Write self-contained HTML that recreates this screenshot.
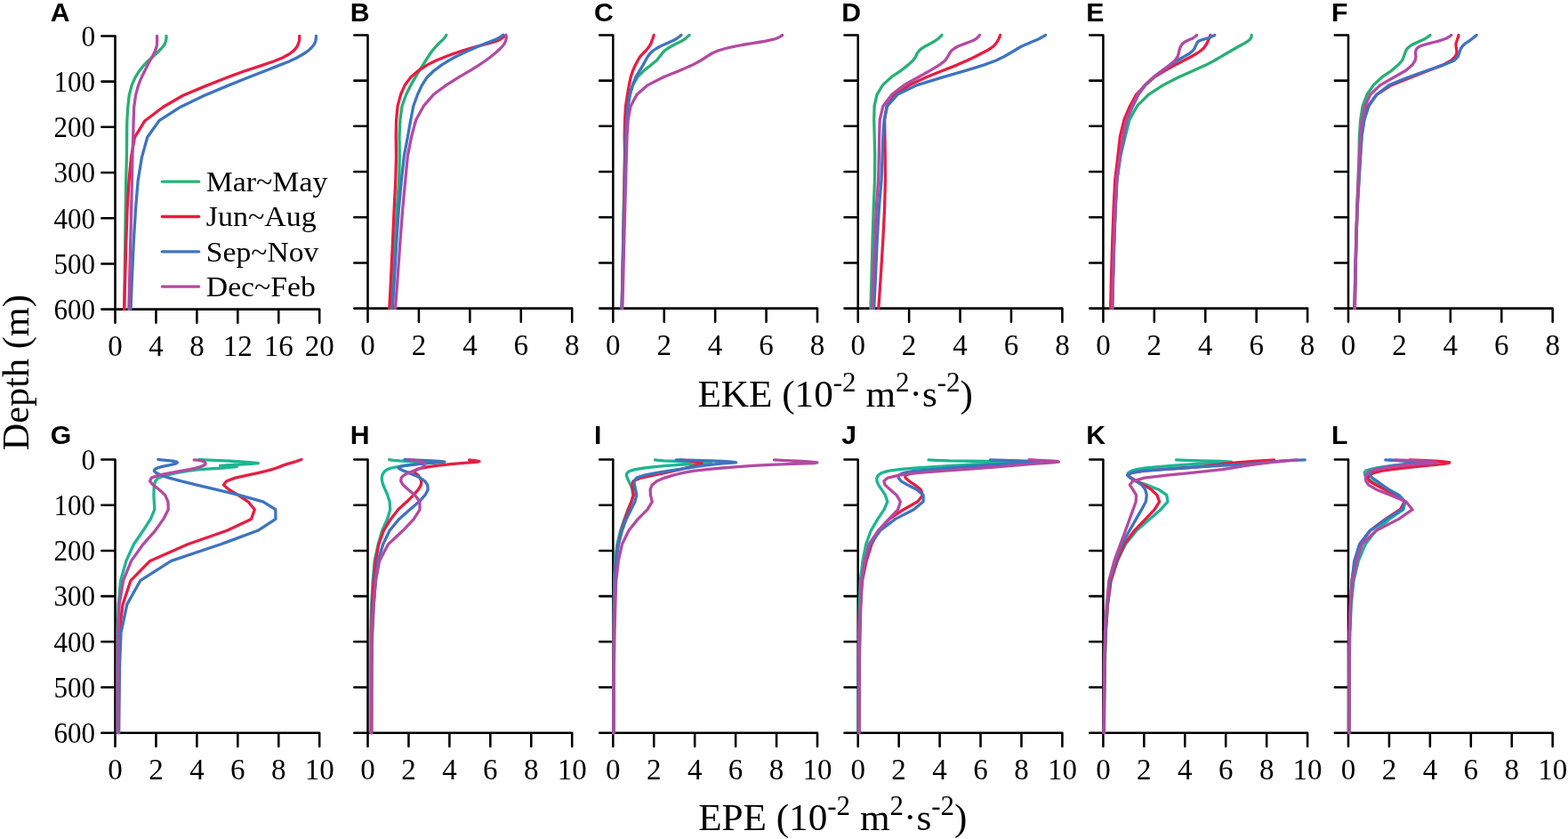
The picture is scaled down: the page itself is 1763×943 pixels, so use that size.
<!DOCTYPE html>
<html lang="en"><head><meta charset="utf-8"><title>EKE and EPE seasonal depth profiles</title>
<style>html,body{margin:0;padding:0;background:#fff}svg{display:block}</style></head>
<body>
<svg width="1763" height="943" viewBox="0 0 1763 943">
<rect width="100%" height="100%" fill="#fff"/>
<g stroke="#000" stroke-width="2.55" fill="none" stroke-linecap="round" stroke-linejoin="round">
<path d="M114.30,40.40 H129.50 V362.80 M114.30,347.60 H359.20 v15.2 M114.30,91.60 H129.50 M114.30,142.80 H129.50 M114.30,194.00 H129.50 M114.30,245.20 H129.50 M114.30,296.40 H129.50 M175.44,347.60 v15.2 M221.38,347.60 v15.2 M267.32,347.60 v15.2 M313.26,347.60 v15.2"/>
<path d="M398.30,39.40 H413.50 V361.80 M398.30,346.60 H643.20 v15.2 M398.30,90.60 H413.50 M398.30,141.80 H413.50 M398.30,193.00 H413.50 M398.30,244.20 H413.50 M398.30,295.40 H413.50 M470.93,346.60 v15.2 M528.35,346.60 v15.2 M585.77,346.60 v15.2"/>
<path d="M674.10,39.40 H689.30 V361.80 M674.10,346.60 H919.00 v15.2 M674.10,90.60 H689.30 M674.10,141.80 H689.30 M674.10,193.00 H689.30 M674.10,244.20 H689.30 M674.10,295.40 H689.30 M746.72,346.60 v15.2 M804.15,346.60 v15.2 M861.57,346.60 v15.2"/>
<path d="M949.50,39.40 H964.70 V361.80 M949.50,346.60 H1194.40 v15.2 M949.50,90.60 H964.70 M949.50,141.80 H964.70 M949.50,193.00 H964.70 M949.50,244.20 H964.70 M949.50,295.40 H964.70 M1022.12,346.60 v15.2 M1079.55,346.60 v15.2 M1136.97,346.60 v15.2"/>
<path d="M1225.20,39.40 H1240.40 V361.80 M1225.20,346.60 H1470.10 v15.2 M1225.20,90.60 H1240.40 M1225.20,141.80 H1240.40 M1225.20,193.00 H1240.40 M1225.20,244.20 H1240.40 M1225.20,295.40 H1240.40 M1297.83,346.60 v15.2 M1355.25,346.60 v15.2 M1412.68,346.60 v15.2"/>
<path d="M1500.80,39.40 H1516.00 V361.80 M1500.80,346.60 H1745.70 v15.2 M1500.80,90.60 H1516.00 M1500.80,141.80 H1516.00 M1500.80,193.00 H1516.00 M1500.80,244.20 H1516.00 M1500.80,295.40 H1516.00 M1573.42,346.60 v15.2 M1630.85,346.60 v15.2 M1688.28,346.60 v15.2"/>
<path d="M114.30,516.50 H129.50 V838.90 M114.30,823.70 H359.20 v15.2 M114.30,567.70 H129.50 M114.30,618.90 H129.50 M114.30,670.10 H129.50 M114.30,721.30 H129.50 M114.30,772.50 H129.50 M175.44,823.70 v15.2 M221.38,823.70 v15.2 M267.32,823.70 v15.2 M313.26,823.70 v15.2"/>
<path d="M398.30,516.50 H413.50 V838.90 M398.30,823.70 H643.20 v15.2 M398.30,567.70 H413.50 M398.30,618.90 H413.50 M398.30,670.10 H413.50 M398.30,721.30 H413.50 M398.30,772.50 H413.50 M459.44,823.70 v15.2 M505.38,823.70 v15.2 M551.32,823.70 v15.2 M597.26,823.70 v15.2"/>
<path d="M674.10,516.50 H689.30 V838.90 M674.10,823.70 H919.00 v15.2 M674.10,567.70 H689.30 M674.10,618.90 H689.30 M674.10,670.10 H689.30 M674.10,721.30 H689.30 M674.10,772.50 H689.30 M735.24,823.70 v15.2 M781.18,823.70 v15.2 M827.12,823.70 v15.2 M873.06,823.70 v15.2"/>
<path d="M949.50,516.50 H964.70 V838.90 M949.50,823.70 H1194.40 v15.2 M949.50,567.70 H964.70 M949.50,618.90 H964.70 M949.50,670.10 H964.70 M949.50,721.30 H964.70 M949.50,772.50 H964.70 M1010.64,823.70 v15.2 M1056.58,823.70 v15.2 M1102.52,823.70 v15.2 M1148.46,823.70 v15.2"/>
<path d="M1225.20,516.50 H1240.40 V838.90 M1225.20,823.70 H1470.10 v15.2 M1225.20,567.70 H1240.40 M1225.20,618.90 H1240.40 M1225.20,670.10 H1240.40 M1225.20,721.30 H1240.40 M1225.20,772.50 H1240.40 M1286.34,823.70 v15.2 M1332.28,823.70 v15.2 M1378.22,823.70 v15.2 M1424.16,823.70 v15.2"/>
<path d="M1500.80,516.50 H1516.00 V838.90 M1500.80,823.70 H1745.70 v15.2 M1500.80,567.70 H1516.00 M1500.80,618.90 H1516.00 M1500.80,670.10 H1516.00 M1500.80,721.30 H1516.00 M1500.80,772.50 H1516.00 M1561.94,823.70 v15.2 M1607.88,823.70 v15.2 M1653.82,823.70 v15.2 M1699.76,823.70 v15.2"/>
</g>
<g fill="none" stroke-width="3.3" stroke-linecap="round" stroke-linejoin="round">
<path d="M187.0,40.3 L187.0,40.7 L187.0,41.2 L187.0,41.8 L187.0,42.4 L186.9,43.0 L186.9,43.7 L186.8,44.5 L186.6,45.3 L186.4,46.2 L186.0,47.3 L185.6,48.5 L184.9,49.9 L183.9,51.5 L182.4,53.3 L180.4,55.5 L178.0,58.0 L174.9,61.0 L170.8,64.7 L166.0,69.0 L161.1,74.1 L156.2,80.3 L151.7,87.7 L147.9,96.6 L145.2,107.3 L143.8,120.2 L142.8,135.7 L142.6,154.3 L142.4,176.6 L141.7,203.3 L141.2,235.1 L140.7,272.8 L140.2,317.4 L139.8,347.6" stroke="#27B074"/>
<path d="M336.7,40.3 L336.7,40.7 L336.7,41.2 L336.7,41.8 L336.7,42.4 L336.7,43.0 L336.6,43.7 L336.6,44.5 L336.5,45.3 L336.3,46.2 L336.0,47.3 L335.6,48.5 L335.1,49.9 L334.4,51.5 L333.3,53.3 L331.6,55.5 L329.0,58.0 L324.8,61.0 L318.0,64.7 L307.5,69.0 L292.5,74.1 L273.9,80.3 L253.7,87.7 L231.2,96.6 L205.8,107.3 L183.5,120.2 L162.9,135.7 L151.4,154.3 L147.5,176.6 L145.0,203.3 L143.1,235.1 L141.8,272.8 L140.5,317.4 L139.6,347.6" stroke="#E81C42"/>
<path d="M355.4,40.3 L355.4,40.7 L355.4,41.2 L355.4,41.8 L355.4,42.4 L355.3,43.0 L355.2,43.7 L355.1,44.5 L354.9,45.3 L354.7,46.2 L354.3,47.3 L353.8,48.5 L353.1,49.9 L352.0,51.5 L350.4,53.3 L348.3,55.5 L345.2,58.0 L340.6,61.0 L334.0,64.7 L325.2,69.0 L312.1,74.1 L296.6,80.3 L277.3,87.7 L255.4,96.6 L229.9,107.3 L203.0,120.2 L178.9,135.7 L165.7,154.3 L159.5,176.6 L155.1,203.3 L152.5,235.1 L150.2,272.8 L148.2,317.4 L147.0,347.6" stroke="#3D74C0"/>
<path d="M176.5,40.3 L176.5,40.7 L176.5,41.2 L176.5,41.8 L176.6,42.4 L176.6,43.0 L176.6,43.7 L176.6,44.5 L176.6,45.3 L176.6,46.2 L176.6,47.3 L176.5,48.5 L176.4,49.9 L176.2,51.5 L175.8,53.3 L175.1,55.5 L174.0,58.0 L172.6,61.0 L170.7,64.7 L168.2,69.0 L165.5,74.1 L162.5,80.3 L158.8,87.7 L155.3,96.6 L152.5,107.3 L150.7,120.2 L150.1,135.7 L149.7,154.3 L148.9,176.6 L148.4,203.3 L147.7,235.1 L146.7,272.8 L145.6,317.4 L144.8,347.6" stroke="#B34AA2"/>
<path d="M501.8,39.5 L501.7,39.7 L501.4,40.2 L501.0,40.8 L500.6,41.4 L500.2,42.0 L499.7,42.7 L499.1,43.5 L498.3,44.3 L497.4,45.2 L496.1,46.3 L494.8,47.5 L493.3,48.9 L491.7,50.5 L490.1,52.3 L488.2,54.5 L486.1,57.0 L483.9,60.0 L481.5,63.7 L478.7,68.0 L475.5,73.1 L471.5,79.3 L467.1,86.7 L462.0,95.6 L456.7,106.3 L452.0,119.2 L449.9,134.7 L449.0,153.3 L449.3,175.6 L448.7,202.3 L446.4,234.1 L444.1,271.8 L441.5,316.4 L439.7,346.6" stroke="#27B074"/>
<path d="M567.0,40.8 L566.3,41.4 L565.5,42.0 L564.6,42.7 L563.5,43.5 L562.2,44.3 L560.6,45.2 L558.0,46.3 L554.2,47.5 L548.9,48.9 L542.8,50.5 L535.8,52.3 L528.0,54.5 L519.8,57.0 L511.0,60.0 L500.9,63.7 L490.3,68.0 L480.2,73.1 L470.5,79.3 L461.9,86.7 L455.3,95.6 L450.5,106.3 L447.1,119.2 L445.6,134.7 L445.2,153.3 L445.5,175.6 L444.8,202.3 L443.2,234.1 L441.5,271.8 L439.4,316.4 L437.8,346.6" stroke="#E81C42"/>
<path d="M565.8,39.2 L565.2,39.7 L564.5,40.2 L563.7,40.8 L562.9,41.4 L561.9,42.0 L560.7,42.7 L559.2,43.5 L557.3,44.3 L555.1,45.2 L552.3,46.3 L549.3,47.5 L545.7,48.9 L541.8,50.5 L537.4,52.3 L532.4,54.5 L526.6,57.0 L520.0,60.0 L512.4,63.7 L504.6,68.0 L496.5,73.1 L488.1,79.3 L480.3,86.7 L474.5,95.6 L469.5,106.3 L464.8,119.2 L461.8,134.7 L458.5,153.3 L454.3,175.6 L451.4,202.3 L448.4,234.1 L445.8,271.8 L443.2,316.4 L441.3,346.6" stroke="#3D74C0"/>
<path d="M569.0,39.2 L569.0,39.7 L569.1,40.2 L569.1,40.8 L569.2,41.4 L569.2,42.0 L569.2,42.7 L569.1,43.5 L569.0,44.3 L568.7,45.2 L568.4,46.3 L567.9,47.5 L567.2,48.9 L566.1,50.5 L564.5,52.3 L562.5,54.5 L559.9,57.0 L556.4,60.0 L551.8,63.7 L546.1,68.0 L538.6,73.1 L528.6,79.3 L516.1,86.7 L501.8,95.6 L487.4,106.3 L476.3,119.2 L467.7,134.7 L462.7,153.3 L458.3,175.6 L455.8,202.3 L452.8,234.1 L449.9,271.8 L446.8,316.4 L444.5,346.6" stroke="#B34AA2"/>
<path d="M775.0,39.5 L774.8,39.7 L774.2,40.2 L773.6,40.8 L773.0,41.4 L772.2,42.0 L771.4,42.7 L770.5,43.5 L769.4,44.3 L768.1,45.2 L766.1,46.3 L763.7,47.5 L760.7,48.9 L757.7,50.5 L754.3,52.3 L750.6,54.5 L747.3,57.0 L744.5,60.0 L741.6,63.7 L738.2,68.0 L732.0,73.1 L724.0,79.3 L716.8,86.7 L711.6,95.6 L708.2,106.3 L705.7,119.2 L704.1,134.7 L703.0,153.3 L702.5,175.6 L701.9,202.3 L701.3,234.1 L700.6,271.8 L699.8,316.4 L699.2,346.6" stroke="#27B074"/>
<path d="M735.2,39.5 L735.1,39.7 L735.0,40.2 L734.8,40.8 L734.6,41.4 L734.4,42.0 L734.1,42.7 L733.9,43.5 L733.6,44.3 L733.2,45.2 L732.8,46.3 L732.4,47.5 L731.8,48.9 L731.0,50.5 L729.8,52.3 L728.2,54.5 L726.1,57.0 L723.0,60.0 L719.7,63.7 L717.1,68.0 L714.4,73.1 L711.6,79.3 L709.2,86.7 L707.3,95.6 L705.5,106.3 L703.5,119.2 L702.6,134.7 L702.2,153.3 L702.6,175.6 L702.2,202.3 L701.5,234.1 L700.8,271.8 L699.9,316.4 L699.3,346.6" stroke="#E81C42"/>
<path d="M765.9,39.5 L765.7,39.7 L765.0,40.2 L764.3,40.8 L763.6,41.4 L762.7,42.0 L761.8,42.7 L760.7,43.5 L759.3,44.3 L757.6,45.2 L755.3,46.3 L752.5,47.5 L749.3,48.9 L745.8,50.5 L742.0,52.3 L738.0,54.5 L734.3,57.0 L731.0,60.0 L728.2,63.7 L725.8,68.0 L723.0,73.1 L719.2,79.3 L714.9,86.7 L711.2,95.6 L708.3,106.3 L706.1,119.2 L704.4,134.7 L703.6,153.3 L703.3,175.6 L702.7,202.3 L701.9,234.1 L700.9,271.8 L699.8,316.4 L699.0,346.6" stroke="#3D74C0"/>
<path d="M879.6,39.5 L879.5,39.7 L878.6,40.2 L877.7,40.8 L876.7,41.4 L875.5,42.0 L874.1,42.7 L872.1,43.5 L869.2,44.3 L865.3,45.2 L860.0,46.3 L853.0,47.5 L844.3,48.9 L834.5,50.5 L824.9,52.3 L815.5,54.5 L807.2,57.0 L800.4,60.0 L794.7,63.7 L787.9,68.0 L778.6,73.1 L764.3,79.3 L745.8,86.7 L728.4,95.6 L716.1,106.3 L709.1,119.2 L706.2,134.7 L705.0,153.3 L704.3,175.6 L703.6,202.3 L702.7,234.1 L701.7,271.8 L700.6,316.4 L699.8,346.6" stroke="#B34AA2"/>
<path d="M1058.9,39.5 L1058.8,39.7 L1058.3,40.2 L1057.7,40.8 L1057.1,41.4 L1056.5,42.0 L1055.8,42.7 L1054.9,43.5 L1053.8,44.3 L1052.5,45.2 L1050.7,46.3 L1048.7,47.5 L1046.2,48.9 L1043.3,50.5 L1039.7,52.3 L1036.3,54.5 L1033.5,57.0 L1031.1,60.0 L1029.6,63.7 L1026.5,68.0 L1020.9,73.1 L1013.0,79.3 L1002.1,86.7 L992.5,95.6 L986.0,106.3 L983.1,119.2 L982.7,134.7 L983.2,153.3 L983.7,175.6 L983.5,202.3 L982.2,234.1 L981.0,271.8 L979.8,316.4 L978.9,346.6" stroke="#27B074"/>
<path d="M1124.6,39.5 L1124.6,39.7 L1124.4,40.2 L1124.1,40.8 L1123.9,41.4 L1123.7,42.0 L1123.4,42.7 L1123.0,43.5 L1122.6,44.3 L1122.1,45.2 L1121.5,46.3 L1120.8,47.5 L1119.8,48.9 L1118.4,50.5 L1116.6,52.3 L1113.7,54.5 L1109.4,57.0 L1103.5,60.0 L1096.3,63.7 L1087.4,68.0 L1075.9,73.1 L1060.1,79.3 L1041.5,86.7 L1022.6,95.6 L1006.6,106.3 L997.0,119.2 L994.6,134.7 L994.9,153.3 L995.2,175.6 L995.4,202.3 L994.6,234.1 L992.7,271.8 L989.9,316.4 L987.8,346.6" stroke="#E81C42"/>
<path d="M1175.5,39.5 L1175.3,39.7 L1174.4,40.2 L1173.4,40.8 L1172.3,41.4 L1171.2,42.0 L1169.9,42.7 L1168.5,43.5 L1166.8,44.3 L1164.7,45.2 L1162.1,46.3 L1159.1,47.5 L1155.9,48.9 L1152.2,50.5 L1148.2,52.3 L1144.4,54.5 L1140.3,57.0 L1135.2,60.0 L1128.7,63.7 L1119.9,68.0 L1106.0,73.1 L1085.7,79.3 L1060.5,86.7 L1031.1,95.6 L1009.0,106.3 L997.7,119.2 L994.1,134.7 L992.9,153.3 L992.1,175.6 L991.0,202.3 L988.3,234.1 L986.1,271.8 L984.2,316.4 L982.7,346.6" stroke="#3D74C0"/>
<path d="M1101.5,39.5 L1101.4,39.7 L1100.9,40.2 L1100.4,40.8 L1099.9,41.4 L1099.2,42.0 L1098.5,42.7 L1097.7,43.5 L1096.5,44.3 L1094.8,45.2 L1092.3,46.3 L1089.1,47.5 L1085.4,48.9 L1081.1,50.5 L1076.7,52.3 L1072.9,54.5 L1069.7,57.0 L1067.6,60.0 L1065.6,63.7 L1062.7,68.0 L1056.1,73.1 L1045.6,79.3 L1032.5,86.7 L1016.7,95.6 L1002.8,106.3 L992.9,119.2 L989.2,134.7 L988.6,153.3 L988.3,175.6 L987.6,202.3 L985.3,234.1 L983.5,271.8 L981.7,316.4 L980.4,346.6" stroke="#B34AA2"/>
<path d="M1407.2,39.5 L1407.2,39.7 L1407.1,40.2 L1407.0,40.8 L1406.9,41.4 L1406.7,42.0 L1406.5,42.7 L1406.0,43.5 L1405.3,44.3 L1404.3,45.2 L1402.9,46.3 L1401.2,47.5 L1398.8,48.9 L1395.8,50.5 L1392.4,52.3 L1388.7,54.5 L1384.3,57.0 L1379.1,60.0 L1372.9,63.7 L1365.6,68.0 L1355.8,73.1 L1342.1,79.3 L1325.2,86.7 L1307.9,95.6 L1291.3,106.3 L1278.5,119.2 L1269.9,134.7 L1265.2,153.3 L1259.8,175.6 L1255.6,202.3 L1254.0,234.1 L1252.6,271.8 L1251.3,316.4 L1250.6,346.6" stroke="#27B074"/>
<path d="M1361.0,39.5 L1360.9,39.7 L1360.7,40.2 L1360.5,40.8 L1360.3,41.4 L1360.0,42.0 L1359.7,42.7 L1359.4,43.5 L1359.0,44.3 L1358.6,45.2 L1358.2,46.3 L1357.6,47.5 L1356.9,48.9 L1356.0,50.5 L1354.7,52.3 L1353.0,54.5 L1350.1,57.0 L1345.6,60.0 L1339.2,63.7 L1330.9,68.0 L1321.2,73.1 L1309.8,79.3 L1298.0,86.7 L1287.7,95.6 L1277.6,106.3 L1270.5,119.2 L1263.9,134.7 L1259.4,153.3 L1256.9,175.6 L1253.7,202.3 L1252.1,234.1 L1250.7,271.8 L1249.4,316.4 L1248.7,346.6" stroke="#E81C42"/>
<path d="M1365.7,39.5 L1365.5,39.7 L1364.3,40.2 L1363.0,40.8 L1361.6,41.4 L1360.1,42.0 L1358.2,42.7 L1355.7,43.5 L1352.9,44.3 L1350.1,45.2 L1347.6,46.3 L1346.4,47.5 L1345.6,48.9 L1344.8,50.5 L1344.0,52.3 L1343.0,54.5 L1341.1,57.0 L1337.5,60.0 L1331.3,63.7 L1323.8,68.0 L1316.0,73.1 L1307.2,79.3 L1297.2,86.7 L1287.9,95.6 L1280.0,106.3 L1273.7,119.2 L1267.0,134.7 L1263.4,153.3 L1259.5,175.6 L1256.0,202.3 L1254.3,234.1 L1252.8,271.8 L1251.5,316.4 L1250.8,346.6" stroke="#3D74C0"/>
<path d="M1345.5,39.5 L1345.4,39.7 L1344.8,40.2 L1344.2,40.8 L1343.5,41.4 L1342.6,42.0 L1341.6,42.7 L1340.1,43.5 L1338.1,44.3 L1335.9,45.2 L1333.8,46.3 L1331.7,47.5 L1329.8,48.9 L1328.5,50.5 L1327.4,52.3 L1326.5,54.5 L1325.8,57.0 L1325.3,60.0 L1324.1,63.7 L1321.1,68.0 L1315.1,73.1 L1306.6,79.3 L1296.8,86.7 L1287.3,95.6 L1279.3,106.3 L1273.1,119.2 L1266.5,134.7 L1262.8,153.3 L1259.1,175.6 L1255.7,202.3 L1254.0,234.1 L1252.6,271.8 L1251.3,316.4 L1250.6,346.6" stroke="#B34AA2"/>
<path d="M1607.9,39.5 L1607.7,39.7 L1607.0,40.2 L1606.3,40.8 L1605.5,41.4 L1604.6,42.0 L1603.6,42.7 L1602.4,43.5 L1600.8,44.3 L1598.8,45.2 L1596.3,46.3 L1593.7,47.5 L1590.6,48.9 L1587.3,50.5 L1584.6,52.3 L1582.4,54.5 L1580.7,57.0 L1579.6,60.0 L1578.4,63.7 L1576.5,68.0 L1571.9,73.1 L1564.7,79.3 L1553.8,86.7 L1544.3,95.6 L1537.0,106.3 L1532.1,119.2 L1529.7,134.7 L1528.4,153.3 L1528.0,175.6 L1527.0,202.3 L1525.7,234.1 L1524.7,271.8 L1523.9,316.4 L1523.3,346.6" stroke="#27B074"/>
<path d="M1640.0,39.5 L1640.0,39.7 L1639.8,40.2 L1639.7,40.8 L1639.5,41.4 L1639.3,42.0 L1639.1,42.7 L1638.8,43.5 L1638.6,44.3 L1638.3,45.2 L1637.9,46.3 L1637.5,47.5 L1637.1,48.9 L1637.0,50.5 L1637.1,52.3 L1637.5,54.5 L1637.9,57.0 L1637.9,60.0 L1636.1,63.7 L1631.6,68.0 L1622.0,73.1 L1606.2,79.3 L1587.1,86.7 L1564.4,95.6 L1547.9,106.3 L1538.0,119.2 L1533.6,134.7 L1530.8,153.3 L1529.4,175.6 L1527.8,202.3 L1526.1,234.1 L1524.8,271.8 L1523.7,316.4 L1523.0,346.6" stroke="#E81C42"/>
<path d="M1660.1,39.5 L1659.9,39.7 L1659.3,40.2 L1658.6,40.8 L1657.9,41.4 L1657.1,42.0 L1656.3,42.7 L1655.3,43.5 L1654.3,44.3 L1653.0,45.2 L1651.5,46.3 L1649.6,47.5 L1647.5,48.9 L1645.7,50.5 L1644.0,52.3 L1642.6,54.5 L1641.6,57.0 L1640.6,60.0 L1639.3,63.7 L1635.0,68.0 L1622.6,73.1 L1604.7,79.3 L1583.5,86.7 L1562.0,95.6 L1547.9,106.3 L1539.0,119.2 L1534.0,134.7 L1531.1,153.3 L1529.7,175.6 L1528.1,202.3 L1526.2,234.1 L1524.8,271.8 L1523.6,316.4 L1522.8,346.6" stroke="#3D74C0"/>
<path d="M1631.7,39.5 L1631.6,39.7 L1630.8,40.2 L1630.0,40.8 L1629.1,41.4 L1628.1,42.0 L1626.9,42.7 L1625.2,43.5 L1623.1,44.3 L1620.4,45.2 L1616.8,46.3 L1611.9,47.5 L1606.5,48.9 L1600.7,50.5 L1595.9,52.3 L1593.0,54.5 L1591.8,57.0 L1591.5,60.0 L1592.0,63.7 L1591.2,68.0 L1587.9,73.1 L1580.7,79.3 L1567.5,86.7 L1552.0,95.6 L1540.7,106.3 L1534.7,119.2 L1531.4,134.7 L1529.5,153.3 L1528.5,175.6 L1527.3,202.3 L1525.9,234.1 L1524.9,271.8 L1524.0,316.4 L1523.4,346.6" stroke="#B34AA2"/>
<path d="M224.1,516.5 L230.4,516.8 L241.6,517.3 L253.0,517.9 L263.6,518.5 L273.4,519.1 L283.3,519.8 L290.4,520.6 L282.1,521.4 L264.5,522.3 L247.6,523.4 L266.5,524.6 L250.7,526.0 L224.6,527.6 L210.7,529.4 L197.9,531.6 L187.3,534.1 L177.8,537.1 L174.6,540.8 L173.5,545.1 L173.1,550.2 L172.9,556.4 L173.3,563.8 L173.8,572.7 L169.3,583.4 L161.0,596.3 L150.4,611.8 L141.9,630.4 L135.6,652.7 L133.2,679.4 L132.2,711.2 L132.1,748.9 L132.1,793.5 L132.1,823.7" stroke="#1DB592"/>
<path d="M338.9,516.5 L338.1,516.8 L336.6,517.3 L335.0,517.9 L333.2,518.5 L331.2,519.1 L328.8,519.8 L326.2,520.6 L323.4,521.4 L320.5,522.3 L317.6,523.4 L314.6,524.6 L310.8,526.0 L305.8,527.6 L299.2,529.4 L289.8,531.6 L278.1,534.1 L264.6,537.1 L254.7,540.8 L251.4,545.1 L257.3,550.2 L267.7,556.4 L278.9,563.8 L286.3,572.7 L282.5,583.4 L255.4,596.3 L211.1,611.8 L168.7,630.4 L146.9,652.7 L138.0,679.4 L133.9,711.2 L133.0,748.9 L132.9,793.5 L132.9,823.7" stroke="#E81C42"/>
<path d="M177.8,516.5 L181.1,516.8 L186.6,517.3 L191.9,517.9 L195.9,518.5 L198.4,519.1 L199.3,519.8 L198.5,520.6 L196.3,521.4 L192.6,522.3 L187.2,523.4 L181.5,524.6 L176.7,526.0 L173.8,527.6 L173.3,529.4 L175.6,531.6 L181.1,534.1 L190.2,537.1 L204.2,540.8 L221.4,545.1 L242.7,550.2 L268.6,556.4 L295.7,563.8 L309.8,572.7 L309.9,583.4 L290.0,596.3 L248.1,611.8 L192.6,630.4 L157.7,652.7 L142.8,679.4 L136.0,711.2 L134.5,748.9 L134.0,793.5 L133.7,823.7" stroke="#3D74C0"/>
<path d="M218.2,516.8 L224.7,517.3 L226.7,517.9 L228.4,518.5 L229.6,519.1 L230.5,519.8 L231.0,520.6 L231.1,521.4 L230.5,522.3 L228.6,523.4 L225.2,524.6 L220.2,526.0 L212.9,527.6 L203.2,529.4 L191.1,531.6 L178.2,534.1 L170.2,537.1 L168.5,540.8 L172.2,545.1 L178.9,550.2 L185.6,556.4 L188.9,563.8 L189.2,572.7 L183.8,583.4 L174.6,596.3 L160.9,611.8 L147.6,630.4 L138.6,652.7 L134.1,679.4 L132.9,711.2 L132.5,748.9 L132.5,793.5 L132.5,823.7" stroke="#B34AA2"/>
<path d="M437.7,516.6 L438.9,516.8 L442.3,517.3 L448.9,517.9 L459.6,518.5 L466.4,519.1 L473.6,519.8 L475.0,520.6 L471.1,521.4 L465.0,522.3 L455.7,523.4 L446.9,524.6 L440.0,526.0 L435.5,527.6 L432.9,529.4 L431.1,531.6 L429.8,534.1 L429.3,537.1 L429.6,540.8 L430.8,545.1 L433.0,550.2 L435.7,556.4 L438.1,563.8 L438.7,572.7 L435.5,583.4 L429.7,596.3 L425.2,611.8 L421.1,630.4 L419.2,652.7 L417.6,679.4 L416.9,711.2 L416.8,748.9 L416.9,793.5 L416.9,823.7" stroke="#1DB592"/>
<path d="M527.7,517.0 L530.4,517.3 L535.6,517.9 L539.0,518.5 L536.7,519.1 L528.2,519.8 L518.4,520.6 L509.6,521.4 L500.3,522.3 L491.1,523.4 L482.6,524.6 L474.2,526.0 L468.7,527.6 L466.0,529.4 L466.8,531.6 L470.1,534.1 L472.2,537.1 L473.7,540.8 L473.4,545.1 L470.4,550.2 L465.0,556.4 L457.5,563.8 L447.7,572.7 L439.3,583.4 L431.4,596.3 L425.9,611.8 L422.3,630.4 L420.3,652.7 L418.4,679.4 L418.0,711.2 L417.9,748.9 L417.9,793.5 L417.9,823.7" stroke="#E81C42"/>
<path d="M455.0,516.5 L462.7,516.8 L474.8,517.3 L484.7,517.9 L493.8,518.5 L500.0,519.1 L493.7,519.8 L482.6,520.6 L471.8,521.4 L462.2,522.3 L454.5,523.4 L449.4,524.6 L448.1,526.0 L450.2,527.6 L454.4,529.4 L460.0,531.6 L466.1,534.1 L472.5,537.1 L477.7,540.8 L480.7,545.1 L481.2,550.2 L478.0,556.4 L471.3,563.8 L460.8,572.7 L448.7,583.4 L438.1,596.3 L430.7,611.8 L424.9,630.4 L422.2,652.7 L420.3,679.4 L418.7,711.2 L417.9,748.9 L417.7,793.5 L417.6,823.7" stroke="#3D74C0"/>
<path d="M460.9,516.5 L462.7,516.8 L465.9,517.3 L469.0,517.9 L471.9,518.5 L474.4,519.1 L476.1,519.8 L477.0,520.6 L477.4,521.4 L477.3,522.3 L476.9,523.4 L475.8,524.6 L473.3,526.0 L469.5,527.6 L464.8,529.4 L459.0,531.6 L454.1,534.1 L451.1,537.1 L450.7,540.8 L453.2,545.1 L459.0,550.2 L466.5,556.4 L471.9,563.8 L472.1,572.7 L465.3,583.4 L453.1,596.3 L436.5,611.8 L426.6,630.4 L422.5,652.7 L420.1,679.4 L418.4,711.2 L417.6,748.9 L417.4,793.5 L417.4,823.7" stroke="#B34AA2"/>
<path d="M736.5,516.8 L740.2,517.3 L746.4,517.9 L762.7,518.5 L781.4,519.1 L798.1,519.8 L799.5,520.6 L781.1,521.4 L764.8,522.3 L749.9,523.4 L736.5,524.6 L724.3,526.0 L714.3,527.6 L708.0,529.4 L705.0,531.6 L704.3,534.1 L705.2,537.1 L706.9,540.8 L709.1,545.1 L710.8,550.2 L711.8,556.4 L710.0,563.8 L706.0,572.7 L702.1,583.4 L697.6,596.3 L693.9,611.8 L691.6,630.4 L690.7,652.7 L690.2,679.4 L689.9,711.2 L689.8,748.9 L689.7,793.5 L689.6,823.7" stroke="#1DB592"/>
<path d="M765.1,516.8 L769.3,517.3 L774.8,517.9 L780.1,518.5 L784.6,519.1 L787.9,519.8 L789.0,520.6 L788.0,521.4 L785.4,522.3 L781.5,523.4 L776.7,524.6 L771.1,526.0 L764.8,527.6 L756.8,529.4 L747.1,531.6 L734.8,534.1 L720.8,537.1 L712.0,540.8 L710.5,545.1 L711.6,550.2 L712.4,556.4 L710.0,563.8 L706.4,572.7 L702.7,583.4 L699.0,596.3 L695.1,611.8 L692.5,630.4 L691.0,652.7 L690.5,679.4 L690.2,711.2 L690.1,748.9 L689.9,793.5 L689.8,823.7" stroke="#E81C42"/>
<path d="M760.3,516.8 L781.5,517.3 L799.1,517.9 L812.1,518.5 L823.2,519.1 L827.6,519.8 L816.1,520.6 L807.0,521.4 L798.9,522.3 L790.4,523.4 L782.0,524.6 L773.1,526.0 L763.0,527.6 L750.7,529.4 L737.3,531.6 L724.6,534.1 L715.6,537.1 L713.0,540.8 L713.4,545.1 L714.6,550.2 L715.8,556.4 L714.0,563.8 L709.5,572.7 L704.2,583.4 L699.4,596.3 L695.4,611.8 L692.7,630.4 L691.2,652.7 L690.7,679.4 L690.4,711.2 L690.2,748.9 L690.0,793.5 L689.9,823.7" stroke="#3D74C0"/>
<path d="M870.4,516.8 L879.0,517.3 L889.4,517.9 L901.5,518.5 L912.2,519.1 L918.8,519.8 L915.1,520.6 L891.5,521.4 L866.7,522.3 L846.7,523.4 L829.6,524.6 L811.7,526.0 L794.6,527.6 L779.2,529.4 L767.0,531.6 L756.9,534.1 L747.1,537.1 L738.5,540.8 L733.2,545.1 L731.1,550.2 L731.4,556.4 L733.3,563.8 L728.0,572.7 L717.3,583.4 L707.0,596.3 L699.4,611.8 L695.3,630.4 L692.7,652.7 L691.8,679.4 L691.0,711.2 L690.4,748.9 L690.2,793.5 L690.1,823.7" stroke="#B34AA2"/>
<path d="M1044.0,516.8 L1052.1,517.3 L1067.0,517.9 L1109.0,518.5 L1142.2,519.1 L1131.9,519.8 L1118.8,520.6 L1104.0,521.4 L1088.0,522.3 L1070.0,523.4 L1051.0,524.6 L1030.4,526.0 L1011.1,527.6 L998.3,529.4 L991.1,531.6 L987.5,534.1 L985.8,537.1 L986.0,540.8 L987.8,545.1 L991.2,550.2 L995.4,556.4 L997.8,563.8 L994.1,572.7 L986.9,583.4 L979.3,596.3 L973.7,611.8 L970.0,630.4 L967.3,652.7 L966.4,679.4 L965.8,711.2 L965.5,748.9 L965.3,793.5 L965.3,823.7" stroke="#1DB592"/>
<path d="M1157.2,516.8 L1163.2,517.3 L1168.3,517.9 L1168.2,518.5 L1163.7,519.1 L1156.6,519.8 L1147.7,520.6 L1137.3,521.4 L1125.5,522.3 L1112.1,523.4 L1098.0,524.6 L1081.1,526.0 L1062.5,527.6 L1042.7,529.4 L1025.5,531.6 L1017.7,534.1 L1018.1,537.1 L1022.2,540.8 L1028.7,545.1 L1035.2,550.2 L1037.5,556.4 L1031.9,563.8 L1015.9,572.7 L999.9,583.4 L988.1,596.3 L980.0,611.8 L974.1,630.4 L969.5,652.7 L967.8,679.4 L966.8,711.2 L966.2,748.9 L966.0,793.5 L965.9,823.7" stroke="#E81C42"/>
<path d="M1113.5,516.8 L1130.0,517.3 L1146.3,517.9 L1159.6,518.5 L1168.5,519.1 L1160.5,519.8 L1146.1,520.6 L1130.2,521.4 L1115.6,522.3 L1100.6,523.4 L1085.2,524.6 L1068.1,526.0 L1048.5,527.6 L1028.5,529.4 L1015.3,531.6 L1010.4,534.1 L1010.2,537.1 L1013.2,540.8 L1020.5,545.1 L1030.7,550.2 L1038.1,556.4 L1038.1,563.8 L1027.3,572.7 L1006.6,583.4 L989.8,596.3 L978.5,611.8 L972.5,630.4 L968.9,652.7 L967.6,679.4 L966.8,711.2 L966.2,748.9 L966.0,793.5 L965.9,823.7" stroke="#3D74C0"/>
<path d="M1157.2,516.8 L1168.8,517.3 L1179.2,517.9 L1188.9,518.5 L1190.3,519.1 L1183.6,519.8 L1173.0,520.6 L1161.2,521.4 L1150.0,522.3 L1137.5,523.4 L1123.2,524.6 L1104.7,526.0 L1083.5,527.6 L1058.8,529.4 L1030.5,531.6 L1010.8,534.1 L998.2,537.1 L993.9,540.8 L995.0,545.1 L1000.9,550.2 L1008.0,556.4 L1012.4,563.8 L1009.7,572.7 L999.5,583.4 L987.4,596.3 L977.0,611.8 L972.5,630.4 L968.6,652.7 L967.4,679.4 L966.6,711.2 L966.0,748.9 L965.8,793.5 L965.7,823.7" stroke="#B34AA2"/>
<path d="M1322.5,516.8 L1333.7,517.3 L1349.0,517.9 L1372.7,518.5 L1384.4,519.1 L1373.4,519.8 L1360.8,520.6 L1346.4,521.4 L1332.1,522.3 L1317.4,523.4 L1303.0,524.6 L1288.3,526.0 L1277.8,527.6 L1271.9,529.4 L1268.3,531.6 L1267.8,534.1 L1270.9,537.1 L1277.2,540.8 L1289.4,545.1 L1302.7,550.2 L1311.7,556.4 L1313.0,563.8 L1305.1,572.7 L1292.6,583.4 L1278.0,596.3 L1265.5,611.8 L1256.1,630.4 L1249.0,652.7 L1245.5,679.4 L1243.3,711.2 L1242.2,748.9 L1241.7,793.5 L1241.5,823.7" stroke="#1DB592"/>
<path d="M1432.5,516.8 L1425.8,517.3 L1417.7,517.9 L1409.3,518.5 L1400.2,519.1 L1390.6,519.8 L1381.9,520.6 L1375.2,521.4 L1367.7,522.3 L1359.2,523.4 L1348.4,524.6 L1330.5,526.0 L1307.6,527.6 L1285.4,529.4 L1272.0,531.6 L1268.0,534.1 L1271.9,537.1 L1278.3,540.8 L1286.3,545.1 L1294.4,550.2 L1300.9,556.4 L1303.6,563.8 L1298.2,572.7 L1288.0,583.4 L1275.5,596.3 L1264.1,611.8 L1256.1,630.4 L1249.0,652.7 L1245.4,679.4 L1243.1,711.2 L1242.0,748.9 L1241.5,793.5 L1241.3,823.7" stroke="#E81C42"/>
<path d="M1467.2,516.8 L1452.5,517.3 L1444.3,517.9 L1437.5,518.5 L1430.5,519.1 L1422.7,519.8 L1414.5,520.6 L1404.6,521.4 L1390.3,522.3 L1371.7,523.4 L1351.8,524.6 L1329.3,526.0 L1305.5,527.6 L1283.9,529.4 L1271.5,531.6 L1268.0,534.1 L1270.9,537.1 L1277.3,540.8 L1283.8,545.1 L1287.7,550.2 L1289.3,556.4 L1288.4,563.8 L1283.6,572.7 L1277.4,583.4 L1270.0,596.3 L1261.5,611.8 L1254.2,630.4 L1247.8,652.7 L1244.9,679.4 L1243.0,711.2 L1241.9,748.9 L1241.5,793.5 L1241.2,823.7" stroke="#3D74C0"/>
<path d="M1458.5,516.8 L1452.8,517.3 L1446.0,517.9 L1439.4,518.5 L1433.3,519.1 L1427.4,519.8 L1421.3,520.6 L1414.9,521.4 L1408.0,522.3 L1400.4,523.4 L1393.0,524.6 L1384.8,526.0 L1374.3,527.6 L1358.4,529.4 L1337.5,531.6 L1312.0,534.1 L1286.8,537.1 L1273.6,540.8 L1270.3,545.1 L1273.7,550.2 L1277.5,556.4 L1277.2,563.8 L1274.0,572.7 L1270.1,583.4 L1265.5,596.3 L1259.7,611.8 L1252.9,630.4 L1246.9,652.7 L1244.4,679.4 L1242.4,711.2 L1241.6,748.9 L1241.3,793.5 L1241.1,823.7" stroke="#B34AA2"/>
<path d="M1562.5,516.8 L1568.9,517.3 L1577.4,517.9 L1585.2,518.5 L1591.3,519.1 L1594.3,519.8 L1592.5,520.6 L1586.6,521.4 L1577.8,522.3 L1566.8,523.4 L1555.9,524.6 L1547.2,526.0 L1540.2,527.6 L1535.3,529.4 L1534.2,531.6 L1534.8,534.1 L1537.2,537.1 L1541.8,540.8 L1549.7,545.1 L1561.0,550.2 L1573.2,556.4 L1579.9,563.8 L1578.0,572.7 L1562.3,583.4 L1547.0,596.3 L1535.2,611.8 L1527.4,630.4 L1522.0,652.7 L1519.3,679.4 L1517.8,711.2 L1517.3,748.9 L1517.1,793.5 L1517.0,823.7" stroke="#1DB592"/>
<path d="M1584.8,516.8 L1597.4,517.3 L1609.2,517.9 L1617.8,518.5 L1625.5,519.1 L1629.9,519.8 L1628.6,520.6 L1622.4,521.4 L1613.6,522.3 L1603.5,523.4 L1591.2,524.6 L1577.7,526.0 L1564.7,527.6 L1552.8,529.4 L1544.3,531.6 L1539.8,534.1 L1537.9,537.1 L1539.8,540.8 L1546.8,545.1 L1557.0,550.2 L1569.9,556.4 L1579.2,563.8 L1574.3,572.7 L1557.8,583.4 L1540.6,596.3 L1528.7,611.8 L1523.5,630.4 L1520.1,652.7 L1518.6,679.4 L1517.4,711.2 L1517.1,748.9 L1516.9,793.5 L1516.8,823.7" stroke="#E81C42"/>
<path d="M1557.8,516.8 L1566.8,517.3 L1577.2,517.9 L1586.9,518.5 L1595.0,519.1 L1598.7,519.8 L1592.3,520.6 L1582.8,521.4 L1573.4,522.3 L1565.8,523.4 L1559.1,524.6 L1552.6,526.0 L1546.9,527.6 L1542.7,529.4 L1540.4,531.6 L1540.3,534.1 L1542.9,537.1 L1548.4,540.8 L1554.1,545.1 L1561.4,550.2 L1572.0,556.4 L1579.5,563.8 L1576.6,572.7 L1558.6,583.4 L1540.6,596.3 L1528.7,611.8 L1522.7,630.4 L1520.1,652.7 L1518.5,679.4 L1517.4,711.2 L1517.1,748.9 L1516.9,793.5 L1516.8,823.7" stroke="#3D74C0"/>
<path d="M1568.9,516.8 L1581.4,517.3 L1593.2,517.9 L1602.2,518.5 L1610.4,519.1 L1615.0,519.8 L1610.9,520.6 L1597.8,521.4 L1585.3,522.3 L1575.0,523.4 L1565.2,524.6 L1555.8,526.0 L1547.3,527.6 L1541.0,529.4 L1537.8,531.6 L1536.1,534.1 L1535.3,537.1 L1535.9,540.8 L1538.8,545.1 L1547.5,550.2 L1563.2,556.4 L1580.8,563.8 L1588.1,572.7 L1572.7,583.4 L1547.5,596.3 L1531.2,611.8 L1525.9,630.4 L1521.0,652.7 L1518.1,679.4 L1517.2,711.2 L1516.9,748.9 L1516.8,793.5 L1516.7,823.7" stroke="#B34AA2"/>
</g>
<g font-family="'Liberation Serif', serif" font-size="33" fill="#000">
<text x="129.5" y="399.5" text-anchor="middle">0</text>
<text x="175.4" y="399.5" text-anchor="middle">4</text>
<text x="221.4" y="399.5" text-anchor="middle">8</text>
<text x="267.3" y="399.5" text-anchor="middle">12</text>
<text x="313.3" y="399.5" text-anchor="middle">16</text>
<text x="359.2" y="399.5" text-anchor="middle">20</text>
<text x="413.5" y="398.5" text-anchor="middle">0</text>
<text x="470.9" y="398.5" text-anchor="middle">2</text>
<text x="528.4" y="398.5" text-anchor="middle">4</text>
<text x="585.8" y="398.5" text-anchor="middle">6</text>
<text x="643.2" y="398.5" text-anchor="middle">8</text>
<text x="689.3" y="398.5" text-anchor="middle">0</text>
<text x="746.7" y="398.5" text-anchor="middle">2</text>
<text x="804.1" y="398.5" text-anchor="middle">4</text>
<text x="861.6" y="398.5" text-anchor="middle">6</text>
<text x="919.0" y="398.5" text-anchor="middle">8</text>
<text x="964.7" y="398.5" text-anchor="middle">0</text>
<text x="1022.1" y="398.5" text-anchor="middle">2</text>
<text x="1079.5" y="398.5" text-anchor="middle">4</text>
<text x="1137.0" y="398.5" text-anchor="middle">6</text>
<text x="1194.4" y="398.5" text-anchor="middle">8</text>
<text x="1240.4" y="398.5" text-anchor="middle">0</text>
<text x="1297.8" y="398.5" text-anchor="middle">2</text>
<text x="1355.2" y="398.5" text-anchor="middle">4</text>
<text x="1412.7" y="398.5" text-anchor="middle">6</text>
<text x="1470.1" y="398.5" text-anchor="middle">8</text>
<text x="1516.0" y="398.5" text-anchor="middle">0</text>
<text x="1573.4" y="398.5" text-anchor="middle">2</text>
<text x="1630.8" y="398.5" text-anchor="middle">4</text>
<text x="1688.3" y="398.5" text-anchor="middle">6</text>
<text x="1745.7" y="398.5" text-anchor="middle">8</text>
<text x="107.1" y="51.7" text-anchor="end" textLength="15.7" lengthAdjust="spacingAndGlyphs">0</text>
<text x="107.1" y="102.9" text-anchor="end" textLength="46.6" lengthAdjust="spacingAndGlyphs">100</text>
<text x="107.1" y="154.1" text-anchor="end" textLength="46.6" lengthAdjust="spacingAndGlyphs">200</text>
<text x="107.1" y="205.3" text-anchor="end" textLength="46.6" lengthAdjust="spacingAndGlyphs">300</text>
<text x="107.1" y="256.5" text-anchor="end" textLength="46.6" lengthAdjust="spacingAndGlyphs">400</text>
<text x="107.1" y="307.7" text-anchor="end" textLength="46.6" lengthAdjust="spacingAndGlyphs">500</text>
<text x="107.1" y="358.9" text-anchor="end" textLength="46.6" lengthAdjust="spacingAndGlyphs">600</text>
<text x="129.5" y="875.6" text-anchor="middle">0</text>
<text x="175.4" y="875.6" text-anchor="middle">2</text>
<text x="221.4" y="875.6" text-anchor="middle">4</text>
<text x="267.3" y="875.6" text-anchor="middle">6</text>
<text x="313.3" y="875.6" text-anchor="middle">8</text>
<text x="359.2" y="875.6" text-anchor="middle">10</text>
<text x="413.5" y="875.6" text-anchor="middle">0</text>
<text x="459.4" y="875.6" text-anchor="middle">2</text>
<text x="505.4" y="875.6" text-anchor="middle">4</text>
<text x="551.3" y="875.6" text-anchor="middle">6</text>
<text x="597.3" y="875.6" text-anchor="middle">8</text>
<text x="643.2" y="875.6" text-anchor="middle">10</text>
<text x="689.3" y="875.6" text-anchor="middle">0</text>
<text x="735.2" y="875.6" text-anchor="middle">2</text>
<text x="781.2" y="875.6" text-anchor="middle">4</text>
<text x="827.1" y="875.6" text-anchor="middle">6</text>
<text x="873.1" y="875.6" text-anchor="middle">8</text>
<text x="919.0" y="875.6" text-anchor="middle">10</text>
<text x="964.7" y="875.6" text-anchor="middle">0</text>
<text x="1010.6" y="875.6" text-anchor="middle">2</text>
<text x="1056.6" y="875.6" text-anchor="middle">4</text>
<text x="1102.5" y="875.6" text-anchor="middle">6</text>
<text x="1148.5" y="875.6" text-anchor="middle">8</text>
<text x="1194.4" y="875.6" text-anchor="middle">10</text>
<text x="1240.4" y="875.6" text-anchor="middle">0</text>
<text x="1286.3" y="875.6" text-anchor="middle">2</text>
<text x="1332.3" y="875.6" text-anchor="middle">4</text>
<text x="1378.2" y="875.6" text-anchor="middle">6</text>
<text x="1424.2" y="875.6" text-anchor="middle">8</text>
<text x="1470.1" y="875.6" text-anchor="middle">10</text>
<text x="1516.0" y="875.6" text-anchor="middle">0</text>
<text x="1561.9" y="875.6" text-anchor="middle">2</text>
<text x="1607.9" y="875.6" text-anchor="middle">4</text>
<text x="1653.8" y="875.6" text-anchor="middle">6</text>
<text x="1699.8" y="875.6" text-anchor="middle">8</text>
<text x="1745.7" y="875.6" text-anchor="middle">10</text>
<text x="107.1" y="527.8" text-anchor="end" textLength="15.7" lengthAdjust="spacingAndGlyphs">0</text>
<text x="107.1" y="579.0" text-anchor="end" textLength="46.6" lengthAdjust="spacingAndGlyphs">100</text>
<text x="107.1" y="630.2" text-anchor="end" textLength="46.6" lengthAdjust="spacingAndGlyphs">200</text>
<text x="107.1" y="681.4" text-anchor="end" textLength="46.6" lengthAdjust="spacingAndGlyphs">300</text>
<text x="107.1" y="732.6" text-anchor="end" textLength="46.6" lengthAdjust="spacingAndGlyphs">400</text>
<text x="107.1" y="783.8" text-anchor="end" textLength="46.6" lengthAdjust="spacingAndGlyphs">500</text>
<text x="107.1" y="835.0" text-anchor="end" textLength="46.6" lengthAdjust="spacingAndGlyphs">600</text>
<text x="231.8" y="215.1" font-size="32.2" textLength="136.5" lengthAdjust="spacingAndGlyphs">Mar~May</text>
<text x="231.8" y="254.4" font-size="32.2" textLength="124" lengthAdjust="spacingAndGlyphs">Jun~Aug</text>
<text x="231.8" y="293.7" font-size="32.2" textLength="126.5" lengthAdjust="spacingAndGlyphs">Sep~Nov</text>
<text x="231.8" y="333.0" font-size="32.2" textLength="123" lengthAdjust="spacingAndGlyphs">Dec~Feb</text>
</g>
<g fill="none" stroke-width="3.3" stroke-linecap="round">
<path d="M182.3,204.2 H223.7" stroke="#27B074"/>
<path d="M182.3,243.5 H223.7" stroke="#E81C42"/>
<path d="M182.3,282.8 H223.7" stroke="#3D74C0"/>
<path d="M182.3,322.1 H223.7" stroke="#B34AA2"/>
</g>
<g font-family="'Liberation Sans', sans-serif" font-weight="bold" font-size="30.2" fill="#000">
<text transform="translate(56.8,24.0) scale(1.0,1)">A</text>
<text transform="translate(393.7,24.0) scale(1.0,1)">B</text>
<text transform="translate(668.0,24.0) scale(1.0,1)">C</text>
<text transform="translate(946.2,24.0) scale(1.0,1)">D</text>
<text transform="translate(1221.3,24.0) scale(1.0,1)">E</text>
<text transform="translate(1497.1,24.0) scale(1.0,1)">F</text>
<text transform="translate(56.8,499.0) scale(1.0,1)">G</text>
<text transform="translate(393.7,499.0) scale(1.0,1)">H</text>
<text transform="translate(668.0,499.0) scale(1.0,1)">I</text>
<text transform="translate(946.2,499.0) scale(1.0,1)">J</text>
<text transform="translate(1221.3,499.0) scale(1.0,1)">K</text>
<text transform="translate(1497.1,499.0) scale(1.0,1)">L</text>
</g>
<text x="939.2" y="457.3" text-anchor="middle" font-family="'Liberation Serif', serif" font-size="43.2" fill="#000">EKE (10<tspan font-size="31" dy="-17.0">-2</tspan><tspan dy="17.0"> m</tspan><tspan font-size="31" dy="-17.0">2</tspan><tspan dy="17.0">·s</tspan><tspan font-size="31" dy="-17.0">-2</tspan><tspan dy="17.0">)</tspan></text>
<text x="936.3" y="932.6" text-anchor="middle" font-family="'Liberation Serif', serif" font-size="43.2" fill="#000">EPE (10<tspan font-size="31" dy="-17.0">-2</tspan><tspan dy="17.0"> m</tspan><tspan font-size="31" dy="-17.0">2</tspan><tspan dy="17.0">·s</tspan><tspan font-size="31" dy="-17.0">-2</tspan><tspan dy="17.0">)</tspan></text>
<text transform="translate(32.2,418.8) rotate(-90)" text-anchor="middle" font-family="'Liberation Serif', serif" font-size="42.3" fill="#000">Depth (m)</text>
</svg>
</body></html>
